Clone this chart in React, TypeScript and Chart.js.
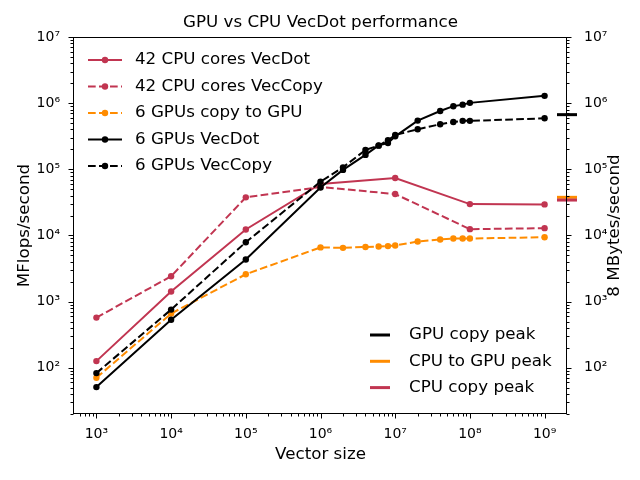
import React, { useEffect, useRef } from "react";
import { Chart, registerables } from "chart.js";

Chart.register(...registerables);

// ---------- data ----------
const cpuSizes = [1e3, 1e4, 1e5, 1e6, 1e7, 1e8, 1e9];
const cpuVecDot = [126, 1420, 12300, 60000, 74000, 29800, 29500];
const cpuVecCopy = [573, 2415, 37700, 54000, 42300, 12450, 12900];

const gpuSizes = [1e3, 1e4, 1e5, 1e6, 2e6, 4e6, 6e6, 8e6, 1e7, 2e7, 4e7, 6e7, 8e7, 1e8, 1e9];
const gpuCopyToGpu = [70.5, 660, 2590, 6600, 6500, 6700, 6800, 6900, 7050, 8100, 8700, 9000, 9000, 9000, 9400];
const gpuVecDot = [51, 533, 4325, 53000, 98000, 165000, 230000, 250000, 315000, 545000, 760000, 900000, 950000, 1010000, 1290000];
const gpuVecCopy = [83, 757, 7900, 65000, 107000, 196000, 228000, 275000, 330000, 403000, 480000, 520000, 540000, 540000, 590000];

const seriesNames = [
  "42 CPU cores VecDot",
  "42 CPU cores VecCopy",
  "6 GPUs copy to GPU",
  "6 GPUs VecDot",
  "6 GPUs VecCopy",
];

const peakNames = ["GPU copy peak", "CPU to GPU peak", "CPU copy peak"];
const peakValues = [670000, 37700, 34300];

const xTickValues = [1e3, 1e4, 1e5, 1e6, 1e7, 1e8, 1e9];
const xTickLabels = ["10³", "10⁴", "10⁵", "10⁶", "10⁷", "10⁸", "10⁹"];
const yTickValues = [1e2, 1e3, 1e4, 1e5, 1e6, 1e7];
const yTickLabels = ["10²", "10³", "10⁴", "10⁵", "10⁶", "10⁷"];

const titleText = "GPU vs CPU VecDot performance";
const xTitle = "Vector size";
const yTitle = "MFlops/second";
const y2Title = "8 MBytes/second";

// axis limits
const xMin = Math.pow(10, 2.7);
const xMax = Math.pow(10, 9.3);
const yMin = 20;
const yMax = 1e7;

// ---------- styles ----------
const CRIMSON = "#c13551";
const ORANGE = "#ff8c00";
const BLACK = "#000000";
const DASH = [7.7, 3.3];
const FONT = "'DejaVu Sans', sans-serif";

const series = [
  { label: seriesNames[0], xs: cpuSizes, ys: cpuVecDot, color: CRIMSON, dash: [] as number[] },
  { label: seriesNames[1], xs: cpuSizes, ys: cpuVecCopy, color: CRIMSON, dash: DASH },
  { label: seriesNames[2], xs: gpuSizes, ys: gpuCopyToGpu, color: ORANGE, dash: DASH },
  { label: seriesNames[3], xs: gpuSizes, ys: gpuVecDot, color: BLACK, dash: [] as number[] },
  { label: seriesNames[4], xs: gpuSizes, ys: gpuVecCopy, color: BLACK, dash: DASH },
];
const peakColors = [BLACK, ORANGE, CRIMSON];

function logTicks(min: number, max: number) {
  const out: { value: number }[] = [];
  const e0 = Math.floor(Math.log10(min));
  const e1 = Math.ceil(Math.log10(max));
  for (let e = e0; e <= e1; e++) {
    for (let m = 1; m <= 9; m++) {
      const v = m * Math.pow(10, e);
      if (v >= min * 0.99999 && v <= max * 1.00001) out.push({ value: v });
    }
  }
  return out;
}

function labelFor(v: number, vals: number[], labels: string[]) {
  const i = vals.findIndex((t) => Math.abs(t - v) / t < 1e-6);
  return i >= 0 ? labels[i] : "";
}

function isMajor(v: number) {
  const l = Math.log10(v);
  return Math.abs(l - Math.round(l)) < 1e-6;
}

const decorPlugin = {
  id: "decor",
  afterDraw(chart: any) {
    const { ctx, chartArea: a, scales } = chart;
    ctx.save();
    ctx.strokeStyle = "#000";
    ctx.lineWidth = 1;
    ctx.setLineDash([]);
    const L = Math.round(a.left) - 0.5;
    const R = Math.round(a.right) - 0.5;
    const T = Math.round(a.top) + 0.5;
    const B = Math.round(a.bottom) - 0.5;
    ctx.strokeRect(L, T, R - L, B - T);

    // tick marks
    ctx.beginPath();
    for (const t of scales.x.ticks) {
      const px = Math.round(scales.x.getPixelForValue(t.value)) + 0.5;
      const len = isMajor(t.value) ? 5 : 3;
      ctx.moveTo(px, B);
      ctx.lineTo(px, B + len);
    }
    for (const t of scales.y.ticks) {
      const py = Math.round(scales.y.getPixelForValue(t.value)) + 0.5;
      const len = isMajor(t.value) ? 5 : 3;
      ctx.moveTo(L, py);
      ctx.lineTo(L - len, py);
    }
    for (const t of scales.y2.ticks) {
      const py = Math.round(scales.y2.getPixelForValue(t.value)) + 0.5;
      const len = isMajor(t.value) ? 5 : 3;
      ctx.moveTo(R, py);
      ctx.lineTo(R + len, py);
    }
    ctx.stroke();

    // titles
    ctx.fillStyle = "#000";
    ctx.font = `16.7px ${FONT}`;
    ctx.textAlign = "center";
    ctx.textBaseline = "middle";
    ctx.fillText(titleText, (a.left + a.right) / 2, 23);
    ctx.fillText(xTitle, (a.left + a.right) / 2, 455);
    ctx.save();
    ctx.translate(25, (a.top + a.bottom) / 2);
    ctx.rotate(-Math.PI / 2);
    ctx.fillText(yTitle, 0, 0);
    ctx.restore();
    ctx.save();
    ctx.translate(615, (a.top + a.bottom) / 2);
    ctx.rotate(-Math.PI / 2);
    ctx.fillText(y2Title, 0, 0);
    ctx.restore();

    // legend 1 (series)
    ctx.textAlign = "left";
    series.forEach((s, i) => {
      const y = 60 + i * 26.5;
      ctx.strokeStyle = s.color;
      ctx.lineWidth = 2;
      ctx.setLineDash(s.dash);
      ctx.beginPath();
      ctx.moveTo(88, y);
      ctx.lineTo(122, y);
      ctx.stroke();
      ctx.setLineDash([]);
      ctx.fillStyle = s.color;
      ctx.beginPath();
      ctx.arc(105, y, 3.2, 0, Math.PI * 2);
      ctx.fill();
      ctx.fillStyle = "#000";
      ctx.fillText(s.label, 135, y);
    });

    // legend 2 (peaks)
    peakNames.forEach((n, i) => {
      const y = 335 + i * 26.3;
      ctx.strokeStyle = peakColors[i];
      ctx.lineWidth = 3;
      ctx.setLineDash([]);
      ctx.beginPath();
      ctx.moveTo(370, y);
      ctx.lineTo(390, y);
      ctx.stroke();
      ctx.fillStyle = "#000";
      ctx.fillText(n, 409, y);
    });
    ctx.restore();
  },
};

export default function App() {
  const ref = useRef<HTMLCanvasElement | null>(null);

  useEffect(() => {
    if (!ref.current) return;
    const datasets: any[] = series.map((s, i) => ({
      type: "line",
      label: s.label,
      data: s.xs.map((x, j) => ({ x, y: s.ys[j] })),
      borderColor: s.color,
      backgroundColor: s.color,
      borderWidth: 2,
      borderDash: s.dash,
      pointRadius: 3.2,
      pointBackgroundColor: s.color,
      pointBorderColor: s.color,
      pointBorderWidth: 0,
      tension: 0,
      fill: false,
      yAxisID: "y",
      order: 100 - i,
    }));
    peakNames.forEach((name, i) => {
      datasets.push({
        type: "line",
        label: name,
        data: [{ x: xMax, y: peakValues[i] }],
        showLine: false,
        pointStyle: "line",
        pointRadius: 10,
        pointBorderWidth: 3,
        pointBorderColor: peakColors[i],
        pointBackgroundColor: peakColors[i],
        borderColor: peakColors[i],
        yAxisID: "y2",
        clip: false,
        order: 50 - i,
      });
    });

    const tickFont = { family: FONT, size: 14 };
    const chart = new Chart(ref.current, {
      type: "line",
      data: { datasets },
      plugins: [decorPlugin],
      options: {
        animation: false,
        responsive: false,
        devicePixelRatio: 1,
        events: [],
        layout: { padding: { top: 37, left: 0, right: 0, bottom: 0 } },
        plugins: {
          legend: { display: false },
          title: { display: false },
          tooltip: { enabled: false },
        },
        scales: {
          x: {
            type: "logarithmic",
            min: xMin,
            max: xMax,
            grid: { display: false },
            border: { display: false },
            ticks: {
              autoSkip: false,
              maxRotation: 0,
              minRotation: 0,
              padding: 4,
              color: "#000",
              font: tickFont,
              callback: (v: any) => labelFor(Number(v), xTickValues, xTickLabels),
            },
            afterBuildTicks: (s: any) => {
              s.ticks = logTicks(s.min, s.max);
            },
            afterFit: (s: any) => {
              s.height = 66;
            },
          },
          y: {
            type: "logarithmic",
            position: "left",
            min: yMin,
            max: yMax,
            grid: { display: false },
            border: { display: false },
            ticks: {
              autoSkip: false,
              padding: 6,
              color: "#000",
              font: tickFont,
              callback: (v: any) => labelFor(Number(v), yTickValues, yTickLabels),
            },
            afterBuildTicks: (s: any) => {
              s.ticks = logTicks(s.min, s.max);
            },
            afterFit: (s: any) => {
              s.width = 74;
            },
          },
          y2: {
            type: "logarithmic",
            position: "right",
            min: yMin,
            max: yMax,
            grid: { display: false },
            border: { display: false },
            ticks: {
              autoSkip: false,
              padding: 9,
              color: "#000",
              font: tickFont,
              callback: (v: any) => labelFor(Number(v), yTickValues, yTickLabels),
            },
            afterBuildTicks: (s: any) => {
              s.ticks = logTicks(s.min, s.max);
            },
            afterFit: (s: any) => {
              s.width = 73;
            },
          },
        },
      } as any,
    });
    return () => chart.destroy();
  }, []);

  return (
    <div style={{ position: "fixed", left: 0, top: 0, width: 640, height: 480, background: "#fff" }}>
      <canvas ref={ref} width={640} height={480} style={{ width: 640, height: 480, display: "block" }} />
    </div>
  );
}
